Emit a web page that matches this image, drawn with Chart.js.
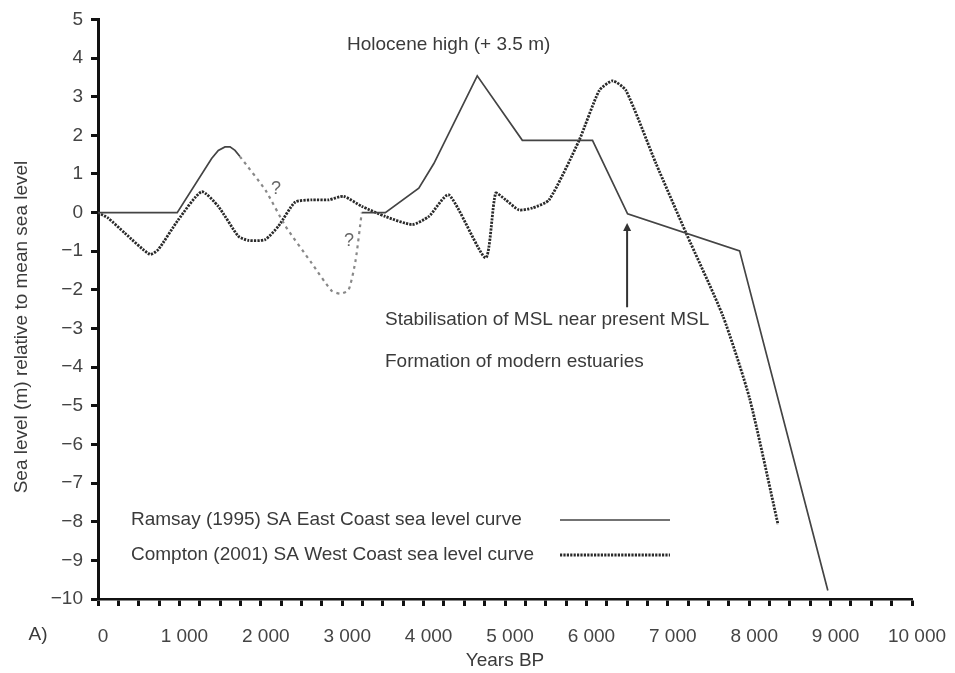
<!DOCTYPE html>
<html>
<head>
<meta charset="utf-8">
<script src="https://cdn.jsdelivr.net/npm/chart.js@4/dist/chart.umd.min.js"></script>
<style>
  body { margin: 0; background: #fff; }
  #wrap { width: 955px; height: 673px; }
</style>
</head>
<body>
<div id="wrap"><canvas id="chart" width="955" height="673"></canvas></div>
<script>
// Ramsay (1995) east coast curve, null = gap where the uncertain part is
const ramsayYears = [0, 973, 1396, 1478, 1560, 1622, 1683, 1744, 2500, 3240, 3530, 3941, 4126, 4659, 5213, 6075, 6506, 7882, 8966];
const ramsayLevel = [0, 0, 1.40, 1.61, 1.70, 1.70, 1.61, 1.45, null, 0, 0, 0.63, 1.27, 3.54, 1.87, 1.87, -0.03, -0.99, -9.78];

// uncertain ("?") stretch of the Ramsay curve
const gapYears = [1744, 2057, 2303, 2623, 2869, 2980, 3079, 3165, 3240];
const gapLevel = [1.45, 0.58, -0.35, -1.30, -2.02, -2.10, -2.00, -1.23, 0];

// Compton (2001) west coast curve
const comptonYears = [0, 123, 329, 636, 739, 985, 1273, 1478, 1724, 1847, 2052, 2217, 2422, 2627, 2833, 3017, 3243, 3530, 3860, 4064, 4310, 4762, 4885, 5008, 5172, 5336, 5542, 5911, 6158, 6322, 6486, 6855, 7225, 7676, 8005, 8354];
const comptonLevel = [0, -0.14, -0.53, -1.08, -0.96, -0.19, 0.54, 0.16, -0.61, -0.72, -0.70, -0.35, 0.27, 0.33, 0.33, 0.42, 0.16, -0.10, -0.31, -0.10, 0.46, -1.17, 0.50, 0.33, 0.07, 0.12, 0.33, 1.87, 3.16, 3.41, 3.16, 1.27, -0.53, -2.67, -4.81, -8.07];

const xTickStep = 250;
const xLabelEvery = 1000;
const legendLabels = ["Ramsay (1995) SA East Coast sea level curve", "Compton (2001) SA West Coast sea level curve"];

const FONT = '"Liberation Sans", Arial, Helvetica, sans-serif';
const TXT = "#3a3a3a";

function pts(xs, ys) {
  return xs.map((x, i) => ({ x: x, y: ys[i] }));
}

function fmtYears(v) {
  return String(v).replace(/\B(?=(\d{3})+(?!\d))/g, " ");
}

// texts, arrow and legend drawn on top
const extras = {
  id: "extras",
  afterDatasetsDraw(chart) {
    const c = chart.ctx;
    const xs = chart.scales.x;
    const ys = chart.scales.y;
    c.save();
    c.fillStyle = TXT;
    c.font = "19px " + FONT;
    c.textBaseline = "middle";
    c.textAlign = "left";

    c.fillText("Holocene high (+ 3.5 m)", 347, 45);
    c.fillText("Stabilisation of MSL near present MSL", 385, 320);
    c.fillText("Formation of modern estuaries", 385, 362);

    c.fillStyle = "#666";
    c.font = "18px " + FONT;
    c.fillText("?", 271, 189);
    c.fillText("?", 344, 241);

    // arrow
    const ax = xs.getPixelForValue(6500);
    const top = ys.getPixelForValue(-0.27);
    const bot = ys.getPixelForValue(-2.45);
    c.strokeStyle = "#333";
    c.fillStyle = "#333";
    c.lineWidth = 2;
    c.beginPath();
    c.moveTo(ax, bot);
    c.lineTo(ax, top + 5);
    c.stroke();
    c.beginPath();
    c.moveTo(ax, top);
    c.lineTo(ax - 4, top + 8);
    c.lineTo(ax + 4, top + 8);
    c.closePath();
    c.fill();

    // legend
    c.fillStyle = TXT;
    c.font = "19px " + FONT;
    c.fillText(legendLabels[0], 131, 520);
    c.fillText(legendLabels[1], 131, 555);
    c.strokeStyle = "#444";
    c.lineWidth = 1.7;
    c.beginPath();
    c.moveTo(560, 520);
    c.lineTo(670, 520);
    c.stroke();
    c.strokeStyle = "#2a2a2a";
    c.lineWidth = 2.8;
    c.setLineDash([2.2, 1.2]);
    c.beginPath();
    c.moveTo(560, 555);
    c.lineTo(670, 555);
    c.stroke();
    c.setLineDash([]);

    // axis titles and panel letter
    c.fillStyle = TXT;
    c.textAlign = "center";
    c.fillText("Years BP", 505, 661);
    c.fillText("A)", 38, 635);
    c.translate(22, 327);
    c.rotate(-Math.PI / 2);
    c.fillText("Sea level (m) relative to mean sea level", 0, 0);
    c.restore();
  }
};

new Chart(document.getElementById("chart"), {
  type: "line",
  data: {
    datasets: [
      {
        label: "Ramsay uncertain",
        data: pts(gapYears, gapLevel),
        borderColor: "#888",
        borderWidth: 2.2,
        borderDash: [3, 4],
        tension: 0.2,
        pointRadius: 0
      },
      {
        label: legendLabels[0],
        data: pts(ramsayYears, ramsayLevel),
        borderColor: "#444",
        borderWidth: 1.7,
        spanGaps: false,
        tension: 0,
        pointRadius: 0
      },
      {
        label: legendLabels[1],
        data: pts(comptonYears, comptonLevel),
        borderColor: "#2a2a2a",
        borderWidth: 2.8,
        borderDash: [2.2, 1.2],
        tension: 0.2,
        pointRadius: 0
      }
    ]
  },
  options: {
    responsive: false,
    animation: false,
    layout: { padding: { left: 0, right: 43, top: 15, bottom: 0 } },
    plugins: {
      legend: { display: false },
      tooltip: { enabled: false }
    },
    scales: {
      x: {
        type: "linear",
        min: 0,
        max: 10000,
        afterFit(s) { s.height = 74; s.paddingLeft = 0; s.paddingRight = 0; },
        border: { display: true, color: "#111", width: 2.5 },
        grid: { drawOnChartArea: false, drawTicks: true, tickLength: 7, tickWidth: 3, tickColor: "#111" },
        ticks: {
          stepSize: xTickStep,
          autoSkip: false,
          maxRotation: 0,
          padding: 19,
          labelOffset: 5,
          color: "#444",
          font: { family: FONT, size: 19 },
          callback: (v) => (v % xLabelEvery === 0 ? fmtYears(v) : "")
        }
      },
      y: {
        min: -10,
        max: 5,
        afterFit(s) { s.width = 98; },
        border: { display: true, color: "#111", width: 3 },
        grid: { drawOnChartArea: false, drawTicks: true, tickLength: 7, tickWidth: 3, tickColor: "#111" },
        ticks: {
          stepSize: 1,
          padding: 8,
          color: "#444",
          font: { family: FONT, size: 19 },
          callback: (v) => (v < 0 ? "\u2212" + Math.abs(v) : String(v))
        }
      }
    }
  },
  plugins: [extras]
});
</script>
</body>
</html>
